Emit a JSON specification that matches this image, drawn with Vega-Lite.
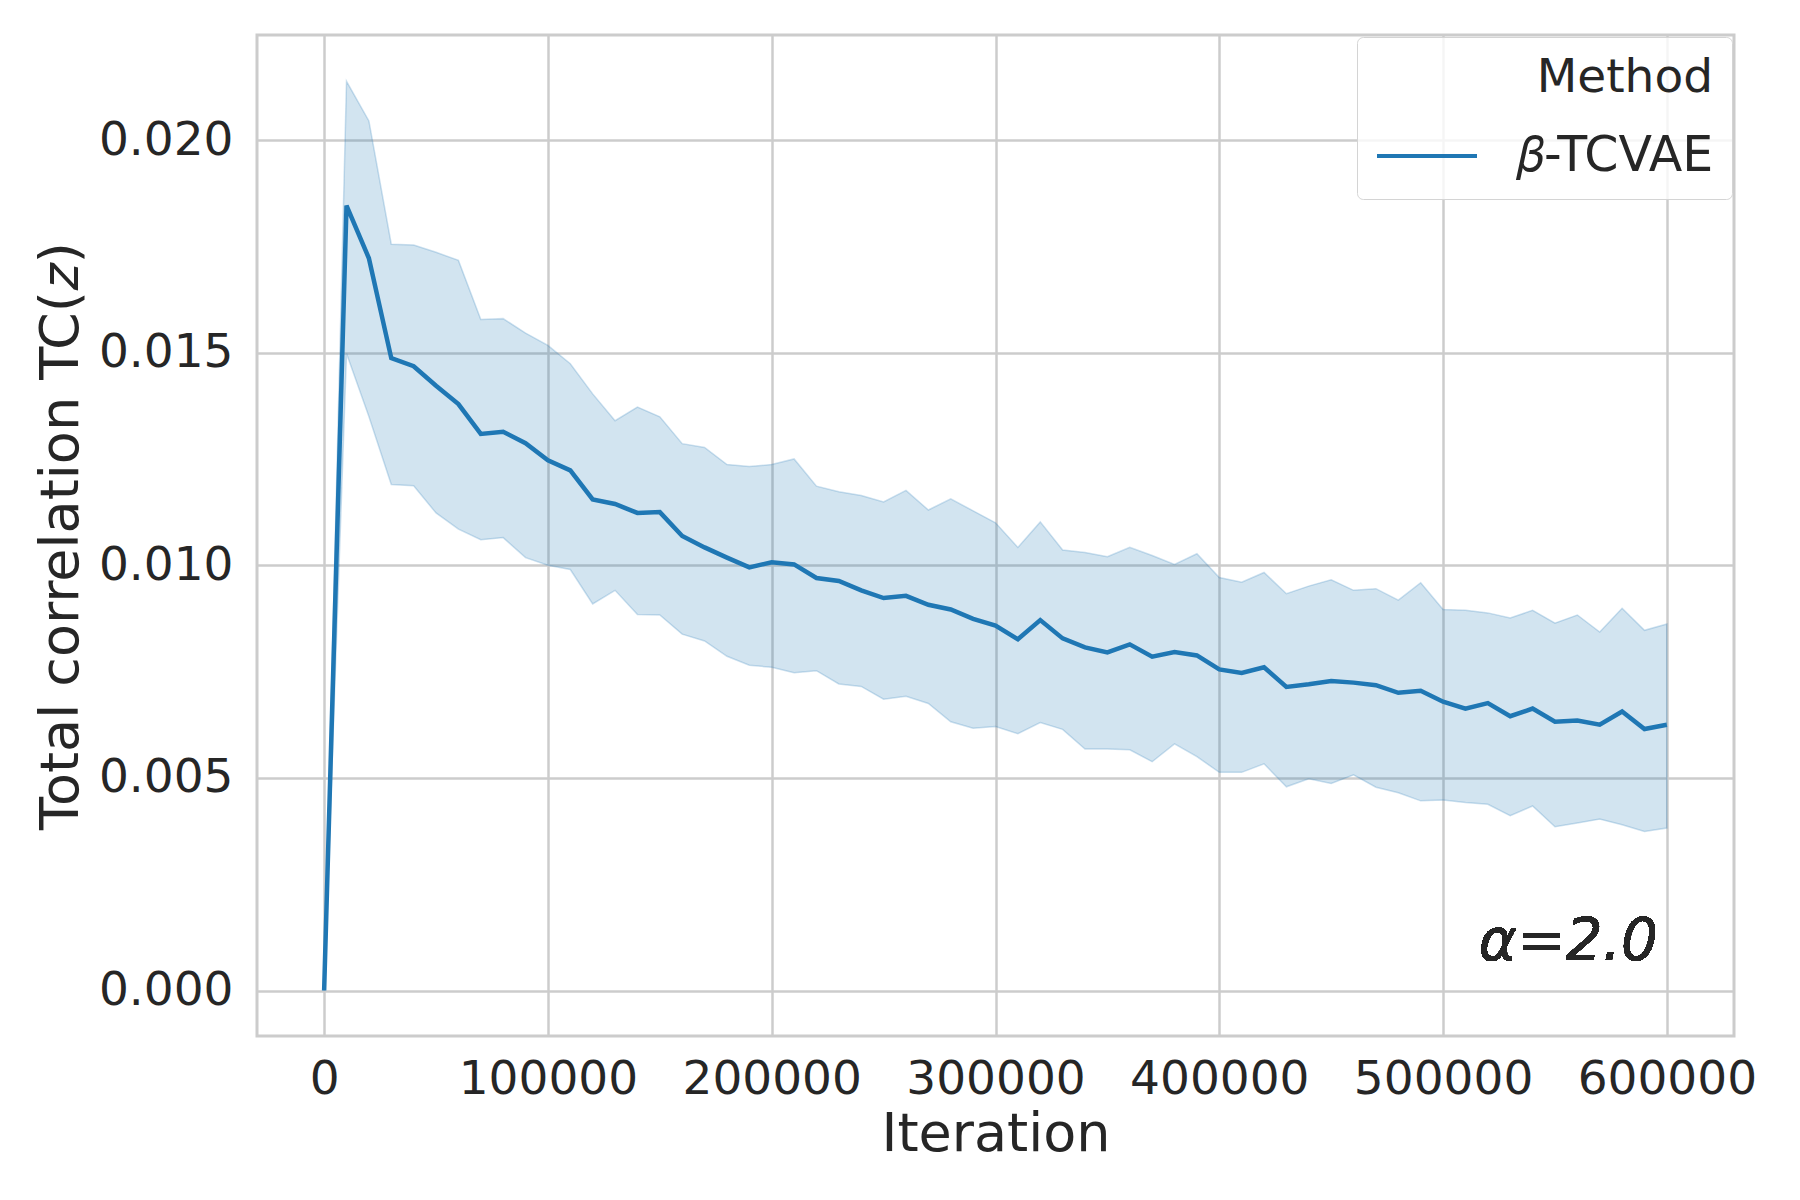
{
  "$schema": "https://vega.github.io/schema/vega-lite/v6.json",
  "width": 1477,
  "height": 1001,
  "autosize": {"type": "none"},
  "padding": {"left": 257, "top": 35, "right": 66, "bottom": 164},
  "background": "white",
  "data": {
    "values": [
      {"iteration": 0, "mean": 0.0, "lower": 0.0, "upper": 0.0},
      {"iteration": 10000, "mean": 0.01846, "lower": 0.01498, "upper": 0.02138},
      {"iteration": 20000, "mean": 0.01722, "lower": 0.0135, "upper": 0.02045},
      {"iteration": 30000, "mean": 0.01487, "lower": 0.0119, "upper": 0.01755},
      {"iteration": 40000, "mean": 0.01468, "lower": 0.01187, "upper": 0.01753},
      {"iteration": 50000, "mean": 0.01422, "lower": 0.01123, "upper": 0.01736},
      {"iteration": 60000, "mean": 0.01379, "lower": 0.01085, "upper": 0.01717},
      {"iteration": 70000, "mean": 0.01309, "lower": 0.0106, "upper": 0.01578},
      {"iteration": 80000, "mean": 0.01314, "lower": 0.01065, "upper": 0.0158},
      {"iteration": 90000, "mean": 0.01287, "lower": 0.01018, "upper": 0.01546},
      {"iteration": 100000, "mean": 0.01247, "lower": 0.01, "upper": 0.01517},
      {"iteration": 110000, "mean": 0.01223, "lower": 0.0099, "upper": 0.01474},
      {"iteration": 120000, "mean": 0.01155, "lower": 0.00909, "upper": 0.01403},
      {"iteration": 130000, "mean": 0.01144, "lower": 0.00941, "upper": 0.0134},
      {"iteration": 140000, "mean": 0.01123, "lower": 0.00884, "upper": 0.01372},
      {"iteration": 150000, "mean": 0.01125, "lower": 0.00883, "upper": 0.01349},
      {"iteration": 160000, "mean": 0.01069, "lower": 0.00838, "upper": 0.01286},
      {"iteration": 170000, "mean": 0.01042, "lower": 0.00822, "upper": 0.01277},
      {"iteration": 180000, "mean": 0.01018, "lower": 0.00786, "upper": 0.01237},
      {"iteration": 190000, "mean": 0.00995, "lower": 0.00765, "upper": 0.01232},
      {"iteration": 200000, "mean": 0.01007, "lower": 0.0076, "upper": 0.01237},
      {"iteration": 210000, "mean": 0.01002, "lower": 0.00747, "upper": 0.0125},
      {"iteration": 220000, "mean": 0.0097, "lower": 0.00752, "upper": 0.01186},
      {"iteration": 230000, "mean": 0.00963, "lower": 0.00721, "upper": 0.01173},
      {"iteration": 240000, "mean": 0.00941, "lower": 0.00715, "upper": 0.01164},
      {"iteration": 250000, "mean": 0.00923, "lower": 0.00685, "upper": 0.01149},
      {"iteration": 260000, "mean": 0.00928, "lower": 0.00692, "upper": 0.01176},
      {"iteration": 270000, "mean": 0.00907, "lower": 0.00675, "upper": 0.0113},
      {"iteration": 280000, "mean": 0.00896, "lower": 0.00632, "upper": 0.01156},
      {"iteration": 290000, "mean": 0.00874, "lower": 0.00617, "upper": 0.01128},
      {"iteration": 300000, "mean": 0.00858, "lower": 0.00621, "upper": 0.011},
      {"iteration": 310000, "mean": 0.00826, "lower": 0.00604, "upper": 0.01042},
      {"iteration": 320000, "mean": 0.00871, "lower": 0.0063, "upper": 0.01102},
      {"iteration": 330000, "mean": 0.00828, "lower": 0.00614, "upper": 0.01036},
      {"iteration": 340000, "mean": 0.00807, "lower": 0.00568, "upper": 0.0103},
      {"iteration": 350000, "mean": 0.00795, "lower": 0.00568, "upper": 0.0102},
      {"iteration": 360000, "mean": 0.00814, "lower": 0.00566, "upper": 0.01042},
      {"iteration": 370000, "mean": 0.00785, "lower": 0.00538, "upper": 0.01023},
      {"iteration": 380000, "mean": 0.00796, "lower": 0.0058, "upper": 0.01002},
      {"iteration": 390000, "mean": 0.00788, "lower": 0.0055, "upper": 0.01027},
      {"iteration": 400000, "mean": 0.00755, "lower": 0.00513, "upper": 0.00971},
      {"iteration": 410000, "mean": 0.00747, "lower": 0.00513, "upper": 0.0096},
      {"iteration": 420000, "mean": 0.0076, "lower": 0.00533, "upper": 0.00983},
      {"iteration": 430000, "mean": 0.00714, "lower": 0.00479, "upper": 0.00933},
      {"iteration": 440000, "mean": 0.0072, "lower": 0.00498, "upper": 0.00951},
      {"iteration": 450000, "mean": 0.00728, "lower": 0.00487, "upper": 0.00966},
      {"iteration": 460000, "mean": 0.00724, "lower": 0.00507, "upper": 0.00941},
      {"iteration": 470000, "mean": 0.00718, "lower": 0.00478, "upper": 0.00945},
      {"iteration": 480000, "mean": 0.007, "lower": 0.00465, "upper": 0.00918},
      {"iteration": 490000, "mean": 0.00705, "lower": 0.00446, "upper": 0.00959},
      {"iteration": 500000, "mean": 0.00679, "lower": 0.00448, "upper": 0.00896},
      {"iteration": 510000, "mean": 0.00663, "lower": 0.00442, "upper": 0.00894},
      {"iteration": 520000, "mean": 0.00676, "lower": 0.00438, "upper": 0.00888},
      {"iteration": 530000, "mean": 0.00645, "lower": 0.00411, "upper": 0.00876},
      {"iteration": 540000, "mean": 0.00663, "lower": 0.00434, "upper": 0.00894},
      {"iteration": 550000, "mean": 0.00632, "lower": 0.00385, "upper": 0.00864},
      {"iteration": 560000, "mean": 0.00635, "lower": 0.00394, "upper": 0.00883},
      {"iteration": 570000, "mean": 0.00625, "lower": 0.00403, "upper": 0.00843},
      {"iteration": 580000, "mean": 0.00656, "lower": 0.0039, "upper": 0.00899},
      {"iteration": 590000, "mean": 0.00615, "lower": 0.00374, "upper": 0.00847},
      {"iteration": 600000, "mean": 0.00625, "lower": 0.00382, "upper": 0.00862}
    ]
  },
  "encoding": {
    "x": {
      "field": "iteration",
      "type": "quantitative",
      "title": "Iteration",
      "scale": {"domain": [-30000, 630000], "nice": false, "zero": false},
      "axis": {"values": [0, 100000, 200000, 300000, 400000, 500000, 600000], "format": "d"}
    }
  },
  "layer": [
    {
      "mark": {"type": "area", "fill": "#1f77b4", "fillOpacity": 0.2, "stroke": "#1f77b4", "strokeOpacity": 0.22, "strokeWidth": 1.5},
      "encoding": {
        "y": {
          "field": "lower",
          "type": "quantitative",
          "title": "Total correlation TC(𝑧)",
          "scale": {"domain": [-0.00107, 0.02247], "nice": false, "zero": false},
          "axis": {"values": [0, 0.005, 0.01, 0.015, 0.02], "format": ".3f"}
        },
        "y2": {"field": "upper"}
      }
    },
    {
      "mark": {"type": "line", "strokeWidth": 4.5},
      "encoding": {
        "y": {"field": "mean", "type": "quantitative", "title": "Total correlation TC(𝑧)"},
        "color": {
          "datum": "𝛽-TCVAE",
          "type": "nominal",
          "scale": {"range": ["#1f77b4"]},
          "legend": {"title": "Method"}
        }
      }
    },
    {
      "mark": {"type": "text", "align": "right", "baseline": "alphabetic", "font": "DejaVu Sans", "fontStyle": "italic", "fontSize": 58, "color": "#262626"},
      "encoding": {
        "x": {"datum": 596000, "type": "quantitative", "title": "Iteration"},
        "y": {"datum": 0.00072, "type": "quantitative", "title": "Total correlation TC(𝑧)"},
        "text": {"value": "α=2.0"}
      }
    }
  ],
  "config": {
    "view": {"stroke": "#cccccc", "strokeWidth": 3},
    "axis": {
      "domain": false,
      "ticks": false,
      "tickSize": 0,
      "grid": true,
      "gridColor": "#cccccc",
      "gridWidth": 2.5,
      "labelFont": "DejaVu Sans",
      "labelFontSize": 47,
      "labelColor": "#262626",
      "labelOverlap": false,
      "labelFlush": false,
      "titleFont": "DejaVu Sans",
      "titleFontSize": 54,
      "titleFontWeight": "normal",
      "titleColor": "#262626"
    },
    "axisX": {"labelPadding": 20, "titlePadding": 5},
    "axisY": {"labelPadding": 24, "titlePadding": 10},
    "legend": {
      "orient": "top-right",
      "offset": 2,
      "padding": 18,
      "titleFont": "DejaVu Sans",
      "labelFont": "DejaVu Sans",
      "titleFontSize": 47,
      "labelFontSize": 49,
      "titleFontWeight": "normal",
      "titleColor": "#262626",
      "labelColor": "#262626",
      "titleAnchor": "end",
      "titleAlign": "right",
      "titlePadding": 2,
      "titleLimit": 600,
      "labelLimit": 600,
      "symbolType": "stroke",
      "symbolSize": 10000,
      "symbolStrokeWidth": 4,
      "labelOffset": 38,
      "strokeColor": "#d4d4d4",
      "fillColor": "rgba(255,255,255,0.8)",
      "cornerRadius": 6
    }
  }
}
